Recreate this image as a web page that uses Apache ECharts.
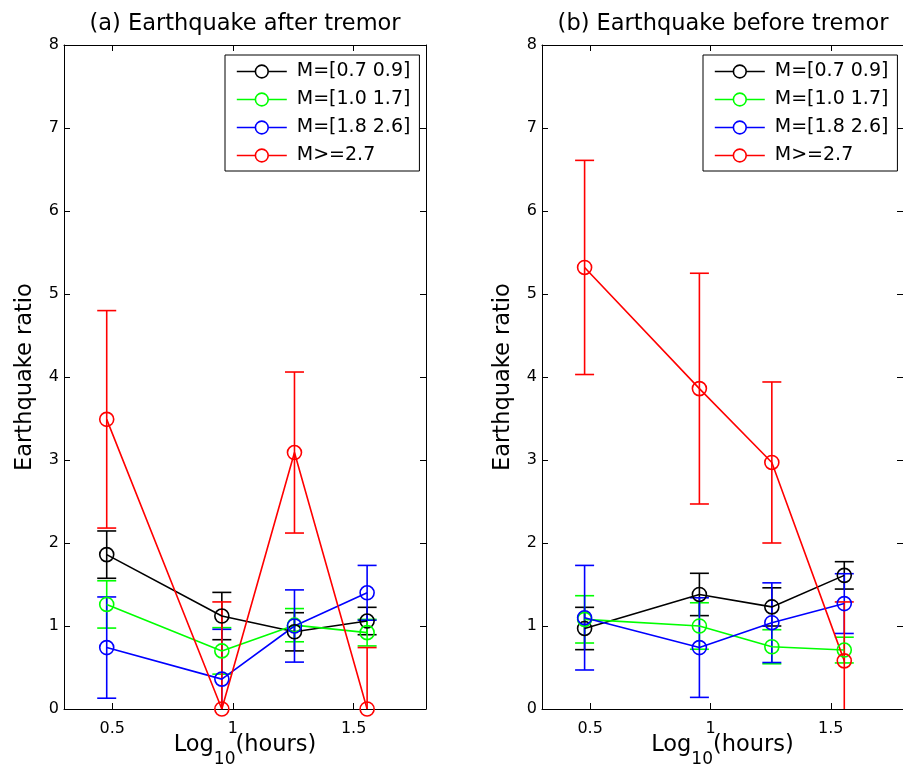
<!DOCTYPE html>
<html>
<head>
<meta charset="utf-8">
<script src="https://cdn.jsdelivr.net/npm/echarts@6/dist/echarts.min.js"></script>
<style>
html, body { margin: 0; padding: 0; background: #fff; }
#chart { width: 903px; height: 774px; }
</style>
</head>
<body>
<div id="chart"></div>
<script>
// x positions: log10 of 3, 9, 18, 36 hours
const logHours = [0.477, 0.954, 1.255, 1.556];
const xTicks = [0.5, 1, 1.5];
const groupNames = ['M=[0.7 0.9]', 'M=[1.0 1.7]', 'M=[1.8 2.6]', 'M>=2.7'];
const groupColors = ['#000000', '#00ff00', '#0000ff', '#ff0000'];

// (a) earthquake after tremor: mean ratio and error half-width
const afterM1 = [1.86, 1.12, 0.93, 1.06];
const afterM1Err = [0.285, 0.285, 0.23, 0.165];
const afterM2 = [1.26, 0.70, 1.01, 0.92];
const afterM2Err = [0.285, 0.28, 0.20, 0.16];
const afterM3 = [0.74, 0.36, 1.00, 1.40];
const afterM3Err = [0.61, 0.60, 0.435, 0.33];
const afterM4 = [3.49, 0.00, 3.09, 0.00];
const afterM4Err = [1.31, 1.29, 0.97, 0.74];

// (b) earthquake before tremor
const beforeM1 = [0.97, 1.38, 1.23, 1.61];
const beforeM1Err = [0.255, 0.255, 0.23, 0.165];
const beforeM2 = [1.08, 1.00, 0.75, 0.71];
const beforeM2Err = [0.285, 0.28, 0.205, 0.155];
const beforeM3 = [1.10, 0.74, 1.04, 1.27];
const beforeM3Err = [0.63, 0.60, 0.48, 0.36];
const beforeM4 = [5.32, 3.86, 2.97, 0.58];
const beforeM4Err = [1.29, 1.39, 0.97, 0.71];

const FONT = 'DejaVu Sans';
const GRID_TOP = 45, GRID_H = 664, GRID_W = 362;

const panels = [
    { left: 64, title: '(a) Earthquake after tremor',
      means: [afterM1, afterM2, afterM3, afterM4],
      errs: [afterM1Err, afterM2Err, afterM3Err, afterM4Err] },
    { left: 542, title: '(b) Earthquake before tremor',
      means: [beforeM1, beforeM2, beforeM3, beforeM4],
      errs: [beforeM1Err, beforeM2Err, beforeM3Err, beforeM4Err] }
];

function errorBar(color) {
    return function (params, api) {
        const x = api.value(0);
        const lo = api.coord([x, api.value(1)]);
        const hi = api.coord([x, api.value(2)]);
        const cs = params.coordSys;
        const top = cs.y, bottom = cs.y + cs.height;
        const half = 9.5;
        const style = { stroke: color, lineWidth: 1.6, fill: null };
        const kids = [{
            type: 'line',
            shape: { x1: hi[0], y1: Math.max(hi[1], top), x2: lo[0], y2: Math.min(lo[1], bottom) },
            style: style
        }];
        [hi, lo].forEach(function (c) {
            if (c[1] >= top - 0.5 && c[1] <= bottom + 0.5) {
                kids.push({ type: 'line', shape: { x1: c[0] - half, y1: c[1], x2: c[0] + half, y2: c[1] }, style: style });
            }
        });
        return { type: 'group', children: kids };
    };
}

function getOption() {
    let option = {
        backgroundColor: '#fff',
        animation: false,
        title: [], grid: [], xAxis: [], yAxis: [], legend: [], series: []
    };
    const axisLine = { show: true, onZero: false, lineStyle: { color: '#000', width: 1 } };
    const tick = { show: true, inside: true, length: 6, lineStyle: { color: '#000', width: 1 } };

    panels.forEach(function (p, pi) {
        option.grid.push({ left: p.left, top: GRID_TOP, width: GRID_W, height: GRID_H });
        option.title.push({
            text: p.title, left: p.left + GRID_W / 2, top: 13, padding: 0, textAlign: 'center',
            textStyle: { fontFamily: FONT, fontSize: 22.5, fontWeight: 'normal', color: '#000' }
        });
        option.xAxis.push({
            gridIndex: pi, type: 'value', min: 0.3, max: 1.8, position: 'bottom',
            axisLine: axisLine,
            axisTick: Object.assign({ customValues: xTicks }, tick),
            axisLabel: { customValues: xTicks, margin: 12, fontSize: 16, fontFamily: FONT, color: '#000' },
            splitLine: { show: false },
            name: '{a|Log}{b|10}{a|(hours)}', nameLocation: 'middle', nameGap: 25,
            nameMoveOverlap: false,
            nameTextStyle: {
                fontFamily: FONT, color: '#000',
                rich: {
                    a: { fontFamily: FONT, fontSize: 22.5, verticalAlign: 'top', color: '#000' },
                    b: { fontFamily: FONT, fontSize: 17, padding: [17, 0, 0, 0], verticalAlign: 'bottom', color: '#000' }
                }
            }
        });
        option.xAxis.push({
            gridIndex: pi, type: 'value', min: 0.3, max: 1.8, position: 'top',
            axisLine: axisLine,
            axisTick: Object.assign({ customValues: xTicks }, tick),
            axisLabel: { show: false }, splitLine: { show: false }
        });
        option.yAxis.push({
            gridIndex: pi, type: 'value', min: 0, max: 8, interval: 1, position: 'left',
            axisLine: axisLine, axisTick: tick,
            axisLabel: { margin: 5, fontSize: 16, fontFamily: FONT, color: '#000' },
            splitLine: { show: false },
            name: 'Earthquake ratio', nameLocation: 'middle', nameGap: 27,
            nameMoveOverlap: false,
            nameTextStyle: { fontFamily: FONT, fontSize: 22.5, color: '#000' }
        });
        option.yAxis.push({
            gridIndex: pi, type: 'value', min: 0, max: 8, interval: 1, position: 'right',
            axisLine: axisLine, axisTick: tick,
            axisLabel: { show: false }, splitLine: { show: false }
        });
        option.legend.push({
            orient: 'vertical', left: p.left + 161, top: 55,
            data: groupNames, selectedMode: false,
            itemWidth: 50, itemHeight: 16, itemGap: 9,
            padding: [7, 9, 6, 11],
            borderColor: '#000', borderWidth: 1, backgroundColor: '#fff',
            itemStyle: { color: '#fff', borderWidth: 1.6 },
            lineStyle: { width: 1.6 },
            textStyle: { fontFamily: FONT, fontSize: 19, color: '#000', padding: [0, 0, 0, 5] }
        });

        groupNames.forEach(function (name, g) {
            const color = groupColors[g];
            const mean = p.means[g], err = p.errs[g];
            option.series.push({
                type: 'custom', name: name + ' error', xAxisIndex: pi * 2, yAxisIndex: pi * 2,
                renderItem: errorBar(color),
                itemStyle: { color: color },
                data: logHours.map((x, i) => [x, mean[i] - err[i], mean[i] + err[i]])
            });
            option.series.push({
                type: 'line', name: name, xAxisIndex: pi * 2, yAxisIndex: pi * 2,
                symbol: 'circle', symbolSize: 14,
                itemStyle: { color: 'transparent', borderColor: color, borderWidth: 1.6 },
                lineStyle: { color: color, width: 1.6 },
                data: logHours.map((x, i) => [x, mean[i]])
            });
        });
    });
    return option;
}

let myChart = echarts.init(document.getElementById('chart'));
myChart.setOption(getOption());
</script>
</body>
</html>
